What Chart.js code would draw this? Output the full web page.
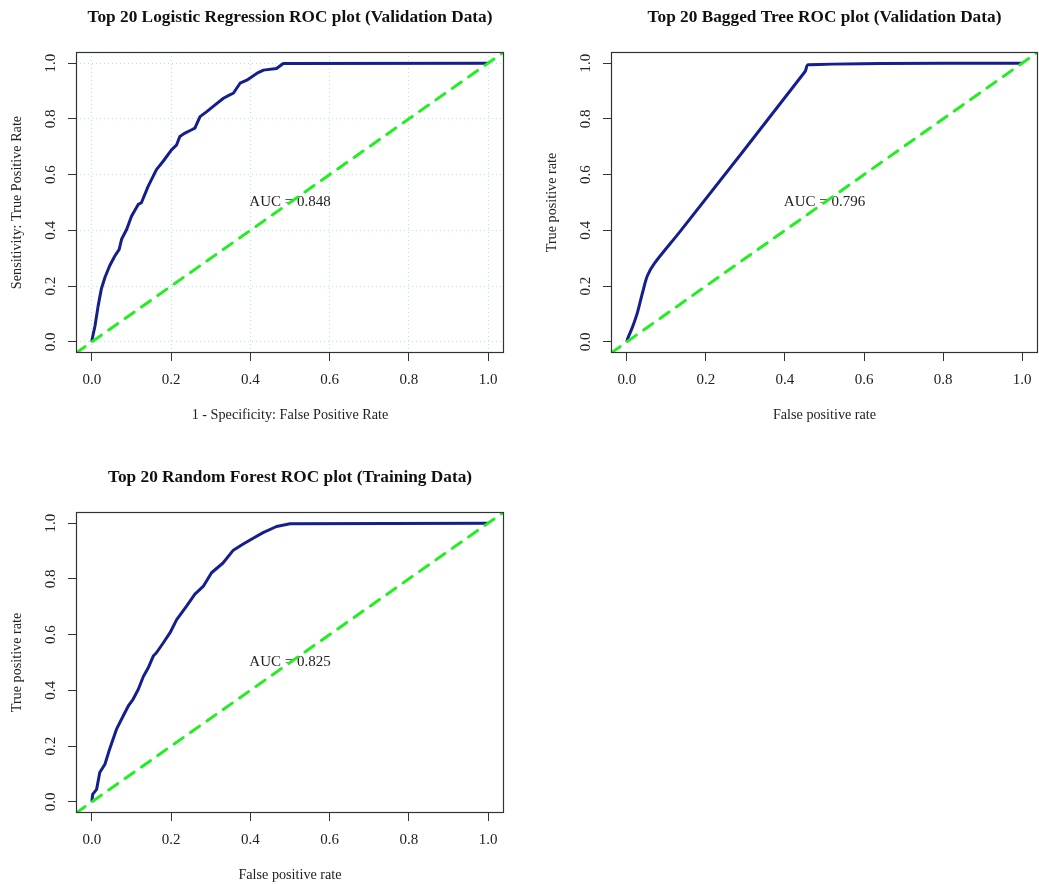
<!DOCTYPE html>
<html>
<head>
<meta charset="utf-8">
<script src="https://cdn.jsdelivr.net/npm/chart.js@4.4.1/dist/chart.umd.min.js"></script>
<style>
  body { margin: 0; background: #fff; }
  #wrap { position: relative; width: 1039px; height: 884px; }
  canvas { position: absolute; }
</style>
</head>
<body>
<div id="wrap">
  <canvas id="lrChart" width="520" height="440" style="left:0;top:0;width:520px;height:440px"></canvas>
  <canvas id="btChart" width="519" height="440" style="left:520px;top:0;width:519px;height:440px"></canvas>
  <canvas id="rfChart" width="520" height="444" style="left:0;top:440px;width:520px;height:444px"></canvas>
</div>
<script>
// ROC curve values
const lrFpr = [0, 0.001, 0.008, 0.016, 0.024, 0.033, 0.045, 0.058, 0.069, 0.075, 0.088, 0.1, 0.117, 0.125, 0.142, 0.163, 0.18, 0.201, 0.214, 0.222, 0.235, 0.252, 0.26, 0.273, 0.29, 0.311, 0.332, 0.348, 0.357, 0.374, 0.391, 0.416, 0.433, 0.466, 0.483, 1];
const lrTpr = [0, 0.011, 0.058, 0.13, 0.19, 0.231, 0.273, 0.308, 0.332, 0.368, 0.404, 0.451, 0.493, 0.499, 0.558, 0.618, 0.648, 0.689, 0.707, 0.737, 0.749, 0.761, 0.767, 0.808, 0.826, 0.85, 0.874, 0.886, 0.892, 0.928, 0.939, 0.963, 0.975, 0.981, 0.999, 1];

const btFpr = [0, 0.002, 0.014, 0.027, 0.04, 0.052, 0.069, 0.136, 0.451, 0.459, 1];
const btTpr = [0, 0.011, 0.052, 0.106, 0.178, 0.237, 0.28, 0.398, 0.97, 0.994, 1];

const rfFpr = [0, 0.002, 0.012, 0.02, 0.033, 0.045, 0.062, 0.079, 0.092, 0.104, 0.117, 0.13, 0.142, 0.155, 0.163, 0.18, 0.197, 0.214, 0.239, 0.26, 0.281, 0.302, 0.331, 0.357, 0.382, 0.407, 0.432, 0.466, 0.5, 1];
const rfTpr = [0, 0.027, 0.045, 0.105, 0.135, 0.19, 0.26, 0.308, 0.344, 0.368, 0.403, 0.45, 0.48, 0.523, 0.535, 0.57, 0.606, 0.654, 0.702, 0.745, 0.773, 0.822, 0.857, 0.903, 0.925, 0.946, 0.966, 0.988, 0.998, 1];

const diagonal = [-0.04, 1.04];
const tickValues = [0, 0.2, 0.4, 0.6, 0.8, 1.0];
const aucValues = [0.848, 0.796, 0.825];

const serif = "'Liberation Serif', 'DejaVu Serif', serif";
const curveColor = "#141e8c";
const chanceColor = "#22ee22";

function toPoints(xs, ys) {
  return xs.map((x, i) => ({ x: x, y: ys[i] }));
}

// draws titles, rotated y tick labels, x tick labels and the box
function textPlugin(panel) {
  return {
    id: "rText",
    beforeDatasetsDraw(chart) {
      const ctx = chart.ctx;
      const xs = chart.scales.x, ys = chart.scales.y;
      ctx.save();
      ctx.fillStyle = "#222";
      ctx.font = "15px " + serif;
      ctx.textAlign = "center";
      ctx.textBaseline = "middle";
      ctx.fillText("AUC = " + panel.auc, xs.getPixelForValue(0.5), ys.getPixelForValue(0.5));
      ctx.restore();
    },
    afterDraw(chart) {
      const ctx = chart.ctx;
      const a = chart.chartArea;
      const xs = chart.scales.x, ys = chart.scales.y;
      const midX = (a.left + a.right) / 2;
      const midY = (a.top + a.bottom) / 2;
      ctx.save();
      ctx.strokeStyle = "#333";
      ctx.lineWidth = 1.2;
      ctx.strokeRect(a.left + 0.5, a.top + 0.5, a.right - a.left - 1, a.bottom - a.top - 1);

      ctx.fillStyle = "#111";
      ctx.textAlign = "center";
      ctx.textBaseline = "middle";
      ctx.font = "bold 17.3px " + serif;
      ctx.fillText(panel.title, midX, a.top - 34);

      ctx.fillStyle = "#222";
      ctx.font = "15px " + serif;
      tickValues.forEach((v) => {
        ctx.fillText(v.toFixed(1), xs.getPixelForValue(v), a.bottom + 27);
        ctx.save();
        ctx.translate(a.left - 25, ys.getPixelForValue(v));
        ctx.rotate(-Math.PI / 2);
        ctx.fillText(v.toFixed(1), 0, 0);
        ctx.restore();
      });
      ctx.font = "14.2px " + serif;
      ctx.fillText(panel.xTitle, midX, a.bottom + 62);
      ctx.save();
      ctx.translate(a.left - 59, midY);
      ctx.rotate(-Math.PI / 2);
      ctx.fillText(panel.yTitle, 0, 0);
      ctx.restore();
      ctx.restore();
    },
  };
}

function axisOptions(panel, isX) {
  return {
    type: "linear",
    min: -0.04,
    max: 1.04,
    afterBuildTicks: (scale) => {
      scale.ticks = tickValues.map((v) => ({ value: v }));
    },
    afterFit: (scale) => {
      if (isX) scale.height = panel.h - panel.area[3];
      else scale.width = panel.area[0];
    },
    ticks: { display: false },
    border: { display: false, dash: [1, 3] },
    grid: {
      drawOnChartArea: panel.grid,
      color: "#9ef0dc",
      lineWidth: 1,
      drawTicks: true,
      tickLength: 8,
      tickColor: "#333",
      tickWidth: 1,
      tickBorderDash: [],
    },
  };
}

function drawRoc(canvasId, panel) {
  const ctx = document.querySelector(canvasId);
  return new Chart(ctx, {
    type: "scatter",
    data: {
      datasets: [
        {
          data: toPoints(diagonal, diagonal),
          showLine: true,
          borderColor: chanceColor,
          borderWidth: 3,
          borderDash: [11, 9],
          borderCapStyle: "round",
          pointRadius: 0,
          order: 0,
        },
        {
          data: toPoints(panel.fpr, panel.tpr),
          showLine: true,
          borderColor: curveColor,
          borderWidth: 3,
          borderJoinStyle: "round",
          pointRadius: 0,
          tension: panel.tension,
          order: 1,
        },
      ],
    },
    options: {
      responsive: false,
      animation: false,
      layout: {
        padding: { left: 0, top: panel.area[1], right: panel.w - panel.area[2], bottom: 0 },
      },
      plugins: { legend: { display: false }, tooltip: { enabled: false } },
      scales: {
        x: axisOptions(panel, true),
        y: axisOptions(panel, false),
      },
    },
    plugins: [textPlugin(panel)],
  });
}

drawRoc("#lrChart", {
  title: "Top 20 Logistic Regression ROC plot (Validation Data)",
  xTitle: "1 - Specificity: False Positive Rate",
  yTitle: "Sensitivity: True Positive Rate",
  auc: aucValues[0],
  fpr: lrFpr, tpr: lrTpr,
  grid: true, tension: 0,
  w: 520, h: 440, area: [76, 52, 504, 353],
});

drawRoc("#btChart", {
  title: "Top 20 Bagged Tree ROC plot (Validation Data)",
  xTitle: "False positive rate",
  yTitle: "True positive rate",
  auc: aucValues[1],
  fpr: btFpr, tpr: btTpr,
  grid: false, tension: 0.3,
  w: 519, h: 440, area: [91, 52, 518, 353],
});

drawRoc("#rfChart", {
  title: "Top 20 Random Forest ROC plot (Training Data)",
  xTitle: "False positive rate",
  yTitle: "True positive rate",
  auc: aucValues[2],
  fpr: rfFpr, tpr: rfTpr,
  grid: false, tension: 0,
  w: 520, h: 444, area: [76, 72, 504, 373],
});
</script>
</body>
</html>
